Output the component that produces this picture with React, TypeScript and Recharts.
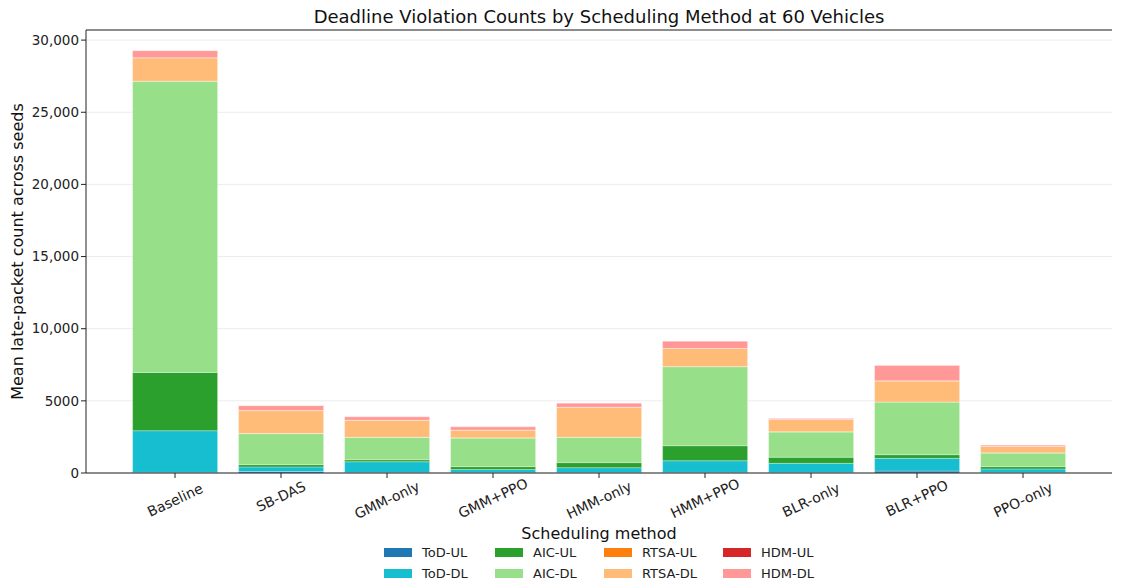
import React from "react"
import { Bar, BarChart, CartesianGrid, Label, ReferenceLine, XAxis, YAxis } from "recharts"

const methods = ["Baseline", "SB-DAS", "GMM-only", "GMM+PPO", "HMM-only", "HMM+PPO", "BLR-only", "BLR+PPO", "PPO-only"]

const todUL = [40, 100, 30, 40, 30, 40, 30, 130, 30]
const todDL = [2890, 320, 750, 200, 340, 810, 640, 885, 250]
const aicUL = [4040, 160, 140, 200, 350, 1040, 420, 255, 160]
const aicDL = [20180, 2150, 1550, 1990, 1750, 5480, 1760, 3650, 950]
const rtsaUL = [5, 5, 5, 5, 5, 5, 5, 5, 5]
const rtsaDL = [1620, 1590, 1180, 540, 2080, 1250, 850, 1460, 440]
const hdmUL = [5, 5, 5, 5, 5, 5, 5, 5, 5]
const hdmDL = [485, 330, 230, 220, 280, 500, 70, 1060, 90]

const yTicks = [0, 5000, 10000, 15000, 20000, 25000, 30000]
const yMax = 30700

const series = [
  { key: "ToD-UL", values: todUL, color: "#1f77b4" },
  { key: "ToD-DL", values: todDL, color: "#17becf" },
  { key: "AIC-UL", values: aicUL, color: "#2ca02c" },
  { key: "AIC-DL", values: aicDL, color: "#98df8a" },
  { key: "RTSA-UL", values: rtsaUL, color: "#ff7f0e" },
  { key: "RTSA-DL", values: rtsaDL, color: "#ffbb78" },
  { key: "HDM-UL", values: hdmUL, color: "#d62728" },
  { key: "HDM-DL", values: hdmDL, color: "#ff9896" },
]

const data = methods.map((m, i) => {
  const row: Record<string, string | number> = { method: m }
  series.forEach((s) => (row[s.key] = s.values[i]))
  return row
})

const font = "'DejaVu Sans', sans-serif"

const formatY = (v: number) => (v >= 10000 ? v.toLocaleString("en-US") : String(v))

function AngledTick(props: any) {
  const { x, y, payload } = props
  const label = String(payload.value)
  const w = label.length * 8.3
  const rad = (25 * Math.PI) / 180
  const cy = y + (w * Math.sin(rad) + 13 * Math.cos(rad)) / 2
  return (
    <text
      x={x}
      y={cy}
      transform={`rotate(-25 ${x} ${cy})`}
      textAnchor="middle"
      dominantBaseline="central"
      fontSize={14}
      fontFamily={font}
      fill="#222"
    >
      {label}
    </text>
  )
}

// legend columns laid out like matplotlib's ncol=4 (column-major)
const legendCols = [
  ["ToD-UL", "ToD-DL"],
  ["AIC-UL", "AIC-DL"],
  ["RTSA-UL", "RTSA-DL"],
  ["HDM-UL", "HDM-DL"],
]
const colWidths = [111, 109, 119, 100]

export default function App() {
  const colorOf = (k: string) => series.find((s) => s.key === k)!.color
  return (
    <div style={{ position: "relative", width: 1115, height: 579, fontFamily: font }}>
      <div
        style={{
          position: "absolute",
          top: -1,
          left: 78,
          width: 1026,
          textAlign: "center",
          fontSize: 18,
          color: "#111",
          lineHeight: "20px",
        }}
      >
        Deadline Violation Counts by Scheduling Method at 60 Vehicles
      </div>
      <BarChart
        width={1115}
        height={579}
        data={data}
        margin={{ top: 22, right: 11, left: 0, bottom: 0 }}
        barCategoryGap="10%"
      >
        <CartesianGrid vertical={false} stroke="#ececec" />
        <XAxis
          dataKey="method"
          height={114}
          padding={{ left: 36, right: 36 }}
          tick={<AngledTick />}
          tickSize={5}
          tickMargin={2}
          interval={0}
          axisLine={{ stroke: "#222" }}
          tickLine={{ stroke: "#222" }}
        >
          <Label
            value="Scheduling method"
            position="insideTop"
            offset={55}
            style={{ fontSize: 16, fontFamily: font, fill: "#111" }}
          />
        </XAxis>
        <YAxis
          width={78}
          type="number"
          domain={[0, yMax]}
          ticks={yTicks}
          tickFormatter={formatY}
          tickSize={5}
          tickMargin={2}
          allowDataOverflow
          axisLine={{ stroke: "#222" }}
          tickLine={{ stroke: "#222" }}
          tick={{ fontSize: 13.5, fontFamily: font, fill: "#222" }}
        >
          <Label
            value="Mean late-packet count across seeds"
            angle={-90}
            position="insideLeft"
            offset={9}
            style={{ fontSize: 16, fontFamily: font, fill: "#111", textAnchor: "middle" }}
          />
        </YAxis>
        <YAxis yAxisId="right" orientation="right" width={0} tick={false} tickLine={false} domain={[0, yMax]} axisLine={{ stroke: "#222" }} />
        {series.map((s) => (
          <Bar
            key={s.key}
            dataKey={s.key}
            stackId="a"
            fill={s.color}
            stroke="#ffffff"
            strokeOpacity={0.5}
            strokeWidth={0.6}
            isAnimationActive={false}
          />
        ))}
        <ReferenceLine y={yMax} stroke="#222" ifOverflow="extendDomain" />
      </BarChart>
      <div style={{ position: "absolute", left: 376, top: 534, display: "flex" }}>
        {legendCols.map((col, ci) => (
          <div key={ci} style={{ width: colWidths[ci] }}>
            {col.map((k) => (
              <div key={k} style={{ display: "flex", alignItems: "center", height: 21 }}>
                <span style={{ display: "inline-block", width: 28, height: 9, background: colorOf(k), marginRight: 10 }} />
                <span style={{ fontSize: 13, color: "#222" }}>{k}</span>
              </div>
            ))}
          </div>
        ))}
      </div>
    </div>
  )
}
